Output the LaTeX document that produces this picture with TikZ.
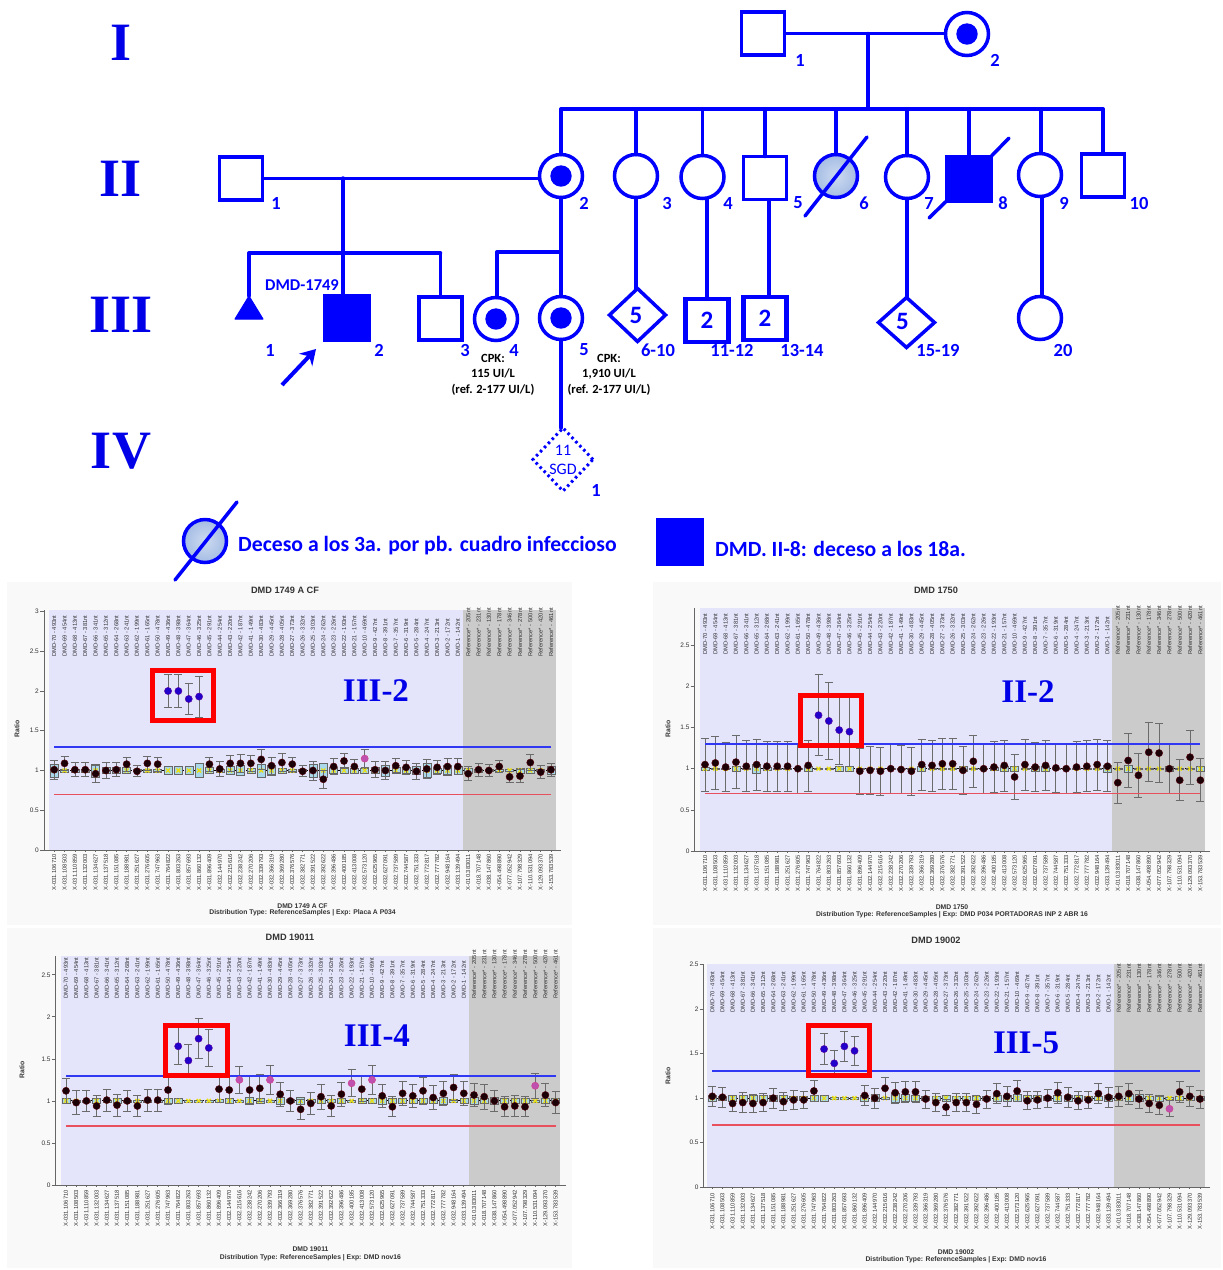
\documentclass[tikz,border=0pt]{standalone}
\usepackage{fontspec}
\usetikzlibrary{shapes.geometric,arrows.meta}
\newfontfamily\carl{Carlito}
\newfontfamily\lsans{Liberation Sans}
\newfontfamily\tnr{Liberation Serif}
\definecolor{pedblue}{HTML}{0000FF}
\definecolor{romblue}{HTML}{0000E8}
\definecolor{panelbg}{HTML}{E4E4FB}
\definecolor{panelgray}{HTML}{CBCBCB}
\definecolor{chartbg}{HTML}{F9F9F9}
\definecolor{charttext}{HTML}{333333}
\definecolor{hiline}{HTML}{3038F4}
\definecolor{loline}{HTML}{E8505E}
\definecolor{chk}{HTML}{1C0008}
\definecolor{chb}{HTML}{2200CC}
\definecolor{chp}{HTML}{C050B0}
\definecolor{boxfill}{HTML}{A8D8EA}
\definecolor{dead}{HTML}{A4BCE4}
\tikzset{
  ped/.style={draw=pedblue,line width=3.5pt,line cap=round},
  person/.style={ped,fill=white,inner sep=0pt,outer sep=0pt},
  female/.style={person,circle,minimum size=43pt},
  male/.style={person,rectangle,minimum width=43pt,minimum height=43pt,text=pedblue,font=\carl\bfseries\fontsize{25}{25}\selectfont},
  affected/.style={male,fill=pedblue,minimum width=44.5pt,minimum height=44.5pt},
  carrier/.style={female,path picture={\fill[pedblue] (path picture bounding box.center) circle (10.7pt);}},
  deadf/.style={female,inner color=dead!55,outer color=dead},
  multi/.style={person,diamond,aspect=1,text=pedblue,font=\carl\bfseries\fontsize{25}{25}\selectfont},
  plab/.style={text=pedblue,inner sep=0pt,font=\carl\bfseries\fontsize{18.5}{20}\selectfont},
  cpk/.style={text=black,inner sep=0pt,align=center,font=\carl\bfseries\fontsize{12.5}{15.5}\selectfont},
  gen/.style={text=romblue,inner sep=0pt,font=\tnr\bfseries\fontsize{54}{54}\selectfont},
  chlabel/.style={text=romblue,inner sep=0pt,font=\tnr\bfseries\fontsize{33}{33}\selectfont},
  legendtext/.style={text=pedblue,inner sep=0pt,anchor=west,font=\carl\bfseries\fontsize{21.7}{24}\selectfont},
  rlab/.style={text=charttext,inner sep=0pt,rotate=90,font=\lsans\fontsize{5.8}{6}\selectfont},
  ticklab/.style={text=charttext,inner sep=0pt,anchor=east,font=\lsans\fontsize{6.5}{7}\selectfont},
  chtitle/.style={text=charttext,inner sep=0pt,font=\lsans\bfseries\fontsize{9.2}{10}\selectfont},
  chfoot/.style={text=charttext,inner sep=0pt,font=\lsans\bfseries\fontsize{6.8}{7}\selectfont},
  chaxis/.style={draw=black!60,line width=.7pt},
  chbar/.style={draw=black!58,line width=.8pt},
  chbox/.style={draw=black!60,fill=boxfill,line width=.5pt},
  chmark/.style={draw=yellow!90!black,line width=1.3pt},
  chdot/.style={fill=ch#1,draw=ch#1!75!red,line width=.4pt},
  redbox/.style={draw=red,line width=5pt},
}
\newcommand\chartlabelsT{DMD-70 - 493nt,DMD-69 - 454nt,DMD-68 - 413nt,DMD-67 - 381nt,DMD-66 - 341nt,DMD-65 - 312nt,DMD-64 - 268nt,DMD-63 - 241nt,DMD-62 - 199nt,DMD-61 - 165nt,DMD-50 - 478nt,DMD-49 - 436nt,DMD-48 - 398nt,DMD-47 - 364nt,DMD-46 - 325nt,DMD-45 - 291nt,DMD-44 - 254nt,DMD-43 - 220nt,DMD-42 - 187nt,DMD-41 - 149nt,DMD-30 - 483nt,DMD-29 - 445nt,DMD-28 - 405nt,DMD-27 - 373nt,DMD-26 - 332nt,DMD-25 - 303nt,DMD-24 - 262nt,DMD-23 - 226nt,DMD-22 - 193nt,DMD-21 - 157nt,DMD-10 - 469nt,DMD-9 - 427nt,DMD-8 - 391nt,DMD-7 - 357nt,DMD-6 - 319nt,DMD-5 - 284nt,DMD-4 - 247nt,DMD-3 - 213nt,DMD-2 - 172nt,DMD-1 - 142nt,Reference* - 205nt,Reference* - 231nt,Reference* - 130nt,Reference* - 178nt,Reference* - 346nt,Reference* - 278nt,Reference* - 500nt,Reference* - 420nt,Reference* - 461nt}
\newcommand\chartlabelsB{X-031.106710,X-031.108503,X-031.110859,X-031.132003,X-031.134627,X-031.137518,X-031.151085,X-031.188981,X-031.251627,X-031.276605,X-031.747963,X-031.764822,X-031.803263,X-031.857693,X-031.860132,X-031.896409,X-032.144970,X-032.215616,X-032.238242,X-032.270206,X-032.339793,X-032.366319,X-032.369280,X-032.376576,X-032.382771,X-032.391522,X-032.392622,X-032.396486,X-032.400185,X-032.413008,X-032.573120,X-032.625965,X-032.627091,X-032.737589,X-032.744587,X-032.751333,X-032.772817,X-032.777782,X-032.948164,X-033.139494,X-010.383011,X-018.707148,X-038.147860,X-054.498890,X-077.052942,X-107.798329,X-110.531094,X-129.093370,X-153.783539}
% chart geometry comes from \cg... macros; #1 = id, #2 = data list
\newcommand\drawchart[2]{%
  \fill[chartbg] (\cgbL,\cgbT) rectangle (\cgbR,\cgbB);
  \fill[panelbg] (\cgL,\cgT) rectangle (\cgG,\cgz);
  \fill[panelgray] (\cgG,\cgT) rectangle (\cgR,\cgz);
  \draw[chaxis] (\cgA,\cgT) -- (\cgA,\cgz) -- (\cgE,\cgz);
  \foreach \tk in \cgticks {
    \pgfmathsetmacro\yy{\cgz-\tk*\cgu}
    \draw[chaxis] (\cgA-4,\yy) -- (\cgA,\yy);
    \node[ticklab] (#1-tick\tk) at (\cgA-5,\yy) {\tk};
  }
  \foreach \tx [count=\i from 0] in \chartlabelsT {
    \pgfmathsetmacro\xx{\cgF+\i*\cgS}
    \node[rlab,anchor=west] (#1-top\i) at (\xx,\cgTL) {\tx};
  }
  \foreach \tx [count=\i from 0] in \chartlabelsB {
    \pgfmathsetmacro\xx{\cgF+\i*\cgS}
    \node[rlab,anchor=east] (#1-bot\i) at (\xx,\cgBL) {\tx};
    \draw[chaxis] (\xx,\cgz) -- (\xx,\cgz+2);
  }
  \pgfmathsetmacro\yone{\cgz-\cgu}
  \pgfmathsetmacro\yhi{\cgz-1.3*\cgu}
  \pgfmathsetmacro\ylo{\cgz-0.7*\cgu}
  \pgfmathsetmacro\xlast{\cgF+48*\cgS}
  \draw[black,line width=1.1pt,dash pattern=on 2pt off 2pt] (\cgF,\yone) -- (\xlast,\yone);
  \foreach \va/\er/\co/\hh [count=\i from 0] in {#2} {
    \pgfmathsetmacro\xx{\cgF+\i*\cgS}
    \pgfmathsetmacro\yb{\yone-\hh*\cgu}
    \pgfmathsetmacro\yc{\yone+\hh*\cgu}
    \path[chbox] (\xx-4,\yb) rectangle (\xx+4,\yc);
    \draw[chmark] (\xx-2,\yone-2) -- (\xx+2,\yone+2) (\xx-2,\yone+2) -- (\xx+2,\yone-2);
    \pgfmathsetmacro\yh{\cgz-(\va+\er)*\cgu}
    \pgfmathsetmacro\yl{\cgz-(\va-\er)*\cgu}
    \draw[chbar] (\xx-4,\yh) -- (\xx+4,\yh) (\xx,\yh) -- (\xx,\yl) (\xx-4,\yl) -- (\xx+4,\yl);
  }
  \draw[hiline,line width=1.8pt] (\cgF,\yhi) -- (\xlast,\yhi);
  \draw[loline,line width=1.5pt] (\cgF,\ylo) -- (\xlast,\ylo);
  \foreach \va/\er/\co/\hh [count=\i from 0] in {#2} {
    \pgfmathsetmacro\xx{\cgF+\i*\cgS}
    \pgfmathsetmacro\yd{\cgz-\va*\cgu}
    \path[chdot=\co] (\xx,\yd) circle (3.6);
  }
  \draw[redbox] (\cgrL,\cgrT) rectangle (\cgrR,\cgrB);
}
\begin{document}
\begin{tikzpicture}[x=1pt,y=-1pt]
\useasboundingbox (0,0) rectangle (1223,1270);
\fill[white] (0,0) rectangle (1223,1270);
% ---------- generation numerals
\node[gen] (genI) at (121,43) {I};
\node[gen] (genII) at (121,179) {II};
\node[gen] (genIII) at (121,315) {III};
\node[gen] (genIV) at (121,451) {IV};
% ---------- individuals
\node[male] (I1) at (763,33.5) {};
\node[carrier] (I2) at (967,34) {};
\node[male] (II1) at (241,178.5) {};
\node[carrier] (II2) at (561,176) {};
\node[female] (II3) at (636,176) {};
\node[female] (II4) at (702.5,177) {};
\node[male] (II5) at (765,178) {};
\node[deadf] (II6) at (836,176) {};
\node[female] (II7) at (907,177) {};
\node[affected] (II8) at (969,178.5) {};
\node[female] (II9) at (1040,175) {};
\node[male] (II10) at (1103,175.5) {};
\coordinate (III1) at (249,296);
\node[affected] (III2) at (347,318) {};
\node[male] (III3) at (440.5,318.5) {};
\node[carrier] (III4) at (496,319) {};
\node[carrier] (III5) at (561,318) {};
\node[multi,minimum width=56pt,minimum height=53pt] (III610) at (637.5,315) {\raisebox{-5pt}{5}\kern3pt};
\node[male,line width=4.2pt] (III1112) at (707,320.5) {2};
\node[male,line width=4.2pt] (III1314) at (765,318.5) {2};
\node[multi,minimum width=56pt,minimum height=50pt] (III1519) at (906.5,322.5) {\raisebox{2pt}{5}\kern8pt};
\node[female] (III20) at (1040,318) {};
\node[person,diamond,aspect=1,line width=3pt,dash pattern=on 2.5pt off 3.2pt,line cap=butt,minimum width=60pt,minimum height=63pt,text=pedblue,align=center,font=\carl\fontsize{16}{20}\selectfont] (IV1) at (563,459.5) {11\\[-1pt]SGD};
% ---------- connectors, generation I-II
\draw[ped] (I1.east) -- (I1.east -| I2.west);
\coordinate (mI) at (868,33.5);
\coordinate (barI) at (868,109);
\draw[ped] (mI) -- (barI);
\draw[ped] (II2.north |- barI) -- (barI -| II10.north);
\foreach \kid in {II2,II3,II4,II5,II6,II7,II8}
  \draw[ped] (\kid.north |- barI) -- (\kid.north);
\coordinate (topII9) at (1041,152);
\draw[ped] (topII9 |- barI) -- (topII9);
\draw[ped] (II10.north |- barI) -- (II10.north);
% ---------- generation II-III
\draw[ped] (II1.east) -- (II1.east -| II2.west);
\coordinate (mII) at (343,178);
\coordinate (barII) at (343,253);
\draw[ped] (mII) -- (barII);
\draw[ped] (III1 |- barII) -- (barII -| III3.north);
\draw[ped] (III1 |- barII) -- (III1);
\draw[ped] (barII) -- (barII |- III2.north);
\draw[ped] (III3.north |- barII) -- (III3.north);
\coordinate (barIIb) at (497,252);
\draw[ped] (II2.south) -- (III5.north);
\draw[ped] (barIIb) -- (barIIb -| III5.north);
\draw[ped] (barIIb) -- (barIIb |- III4.north);
\draw[ped] (II3.south) -- (II3.south |- III610.north);
\coordinate (II4d) at (707,199);
\draw[ped] (II4d) -- (II4d |- III1112.north);
\coordinate (II5d) at (769,200);
\draw[ped] (II5d) -- (II5d |- III1314.north);
\draw[ped] (II7.south) -- (II7.south |- III1519.north);
\coordinate (II9d) at (1042,197);
\draw[ped] (II9d) -- (II9d |- III20.north);
\draw[ped] (III5.south) -- (III5.south |- IV1.north);
% ---------- triangle, slashes, arrow
\fill[pedblue,draw=pedblue,line width=1pt,line join=round] (III1) -- ++(-14,23) -- ++(28,0) -- cycle;
\coordinate (s6a) at (805,216); \coordinate (s6b) at (867,137);
\draw[ped] (s6a) -- (s6b);
\coordinate (s8a) at (929,218); \coordinate (s8b) at (1009,138);
\draw[ped] (s8a) -- (II8.south west);
\draw[ped] (II8.north east) -- (s8b);
\coordinate (arT) at (282,385); \coordinate (arH) at (316,349);
\draw[draw=pedblue,line width=4pt,-{Stealth[length=15pt,width=18pt,inset=5pt]}] (arT) -- (arH);
% ---------- labels
\foreach \nm/\px/\py/\tx in {a/800/60/1,b/995/60/2,c/276/203/1,d/584/203/2,e/667/203/3,f/728/203/4,g/798/203/5,h/864/203/6,i/929/203/7,j/1003/203/8,k/1064/203/9,l/1139/203/10,m/270/350/1,n/379/350/2,o/465/350/3,p/514/350/4,q/584/350/5,r/658/350/6-10,s/732/350/11-12,t/802/350/13-14,u/938/350/15-19,v/1063/350/20,w/596/490/1}
  \node[plab] (lab\nm) at (\px,\py) {\tx};
\node[plab,font=\carl\fontsize{16.5}{18}\selectfont\bfseries] (labDMD) at (302,285) {DMD-1749};
\node[cpk] (cpk4) at (493,374.5) {CPK:\\115 UI/L\\(ref. 2-177 UI/L)};
\node[cpk] (cpk5) at (609,374.5) {CPK:\\1,910 UI/L\\(ref. 2-177 UI/L)};
% ---------- legend
\node[deadf] (legdead) at (205,541) {};
\coordinate (ls1) at (175,580); \coordinate (ls2) at (237,502);
\draw[ped] (ls1) -- (ls2);
\node[legendtext] (legt1) at (238,546) {Deceso a los 3a. por pb. cuadro infeccioso};
\node[affected] (legaff) at (680,541.5) {};
\node[legendtext] (legt2) at (715,548.5) {DMD. II-8: deceso a los 18a.};
% ---------- chart 1
\def\cgbL{7}\def\cgbT{582}\def\cgbR{572}\def\cgbB{925}
\def\cgL{49}\def\cgR{556}\def\cgG{463}\def\cgT{610}\def\cgz{850}\def\cgu{79.5}
\def\cgA{44}\def\cgE{561}\def\cgF{54.2}\def\cgS{10.35}\def\cgTL{657}\def\cgBL{854}
\def\cgticks{0,0.5,1,1.5,2,2.5,3}
\def\cgrL{152.5}\def\cgrT{670.5}\def\cgrR{213.5}\def\cgrB{720.5}
\drawchart{cA}{1.01/.12/k/.08,1.09/.09/k/.02,1.01/.09/k/.02,1.01/.09/k/.02,.96/.11/k/.08,1.0/.1/k/.04,1.01/.09/k/.04,1.08/.09/k/.04,.99/.07/k/.01,1.09/.09/k/.02,1.08/.09/k/.02,2.0/.21/b/.05,2.0/.21/b/.05,1.9/.2/b/.05,1.93/.26/b/.09,1.08/.09/k/.04,1.02/.09/k/.02,1.09/.1/k/.05,1.09/.11/k/.06,1.09/.1/k/.03,1.14/.13/k/.08,1.06/.11/k/.06,1.1/.11/k/.03,1.08/.09/k/.02,.99/.07/k/.01,1.0/.12/k/.08,.89/.11/k/.09,1.05/.1/k/.04,1.12/.09/k/.04,1.05/.09/k/.03,1.15/.11/p/.03,1.01/.1/k/.04,1.0/.11/k/.07,1.06/.09/k/.04,1.04/.09/k/.04,.99/.1/k/.05,1.02/.12/k/.09,1.04/.09/k/.03,1.05/.1/k/.06,1.05/.1/k/.05,.96/.09/k/.03,1.01/.08/k/.02,1.0/.08/k/.01,1.05/.08/k/.01,.92/.07/k/.01,.93/.08/k/.03,1.1/.1/k/.03,.98/.08/k/.01,1.01/.08/k/.05}
\node[chtitle] (cAtitle) at (285,590) {DMD 1749 A CF};
\node[chfoot] (cAf1) at (302.5,906) {DMD 1749 A CF};
\node[chfoot] (cAf2) at (302.5,913) {Distribution Type: ReferenceSamples | Exp: Placa A P034};
\node[chfoot,rotate=90] (cAr) at (17,729) {Ratio};
\node[chlabel] (cAl) at (376,691) {III-2};
% ---------- chart 2
\def\cgbL{653}\def\cgbT{582}\def\cgbR{1221}\def\cgbB{925}
\def\cgL{699.5}\def\cgR{1205}\def\cgG{1112}\def\cgT{608}\def\cgz{851}\def\cgu{82.3}
\def\cgA{694.7}\def\cgE{1210}\def\cgF{705}\def\cgS{10.32}\def\cgTL{655}\def\cgBL{855}
\def\cgticks{0,0.5,1,1.5,2,2.5}
\def\cgrL{800}\def\cgrT{695.5}\def\cgrR{861}\def\cgrB{745}
\drawchart{cB}{1.05/.32/k/.02,1.07/.32/k/.01,1.02/.3/k/.01,1.08/.32/k/.03,1.03/.31/k/.01,1.05/.31/k/.05,1.03/.3/k/.02,1.03/.3/k/.01,1.03/.3/k/.01,1.0/.3/k/.01,1.04/.31/k/.03,1.65/.49/b/.01,1.58/.47/b/.01,1.47/.42/b/.03,1.45/.42/b/.03,.97/.28/k/.01,.98/.29/k/.01,.97/.29/k/.01,1.0/.3/k/.01,.99/.29/k/.01,.97/.29/k/.01,1.05/.31/k/.03,1.04/.31/k/.01,1.06/.31/k/.01,1.06/.31/k/.01,.98/.29/k/.03,1.09/.32/k/.01,1.0/.3/k/.01,1.02/.31/k/.02,1.04/.31/k/.03,.9/.27/k/.03,1.05/.31/k/.01,1.02/.3/k/.03,1.04/.3/k/.03,1.01/.3/k/.01,1.0/.3/k/.01,1.02/.31/k/.01,1.03/.31/k/.01,1.05/.31/k/.01,1.03/.31/k/.04,.83/.25/k/.01,1.1/.33/k/.04,.92/.27/k/.01,1.2/.36/k/.01,1.19/.36/k/.01,1.0/.3/k/.03,.86/.25/k/.01,1.14/.33/k/.01,.86/.26/k/.03}
\node[chtitle] (cBtitle) at (936,590.7) {DMD 1750};
\node[chfoot] (cBf1) at (952,907) {DMD 1750};
\node[chfoot] (cBf2) at (952,914.3) {Distribution Type: ReferenceSamples | Exp: DMD P034 PORTADORAS INP 2 ABR 16};
\node[chfoot,rotate=90] (cBr) at (668,729) {Ratio};
\node[chlabel] (cBl) at (1028,692) {II-2};
% ---------- chart 3
\def\cgbL{7}\def\cgbT{928}\def\cgbR{572}\def\cgbB{1268}
\def\cgL{60.8}\def\cgR{560.4}\def\cgG{469}\def\cgT{956}\def\cgz{1185}\def\cgu{84.1}
\def\cgA{55.8}\def\cgE{566}\def\cgF{66}\def\cgS{10.2}\def\cgTL{999}\def\cgBL{1190}
\def\cgticks{0,0.5,1,1.5,2,2.5}
\def\cgrL{165.2}\def\cgrT{1025.2}\def\cgrR{227.1}\def\cgrB{1075.8}
\drawchart{cC}{1.12/.15/k/.03,.98/.14/k/.01,1.0/.13/k/.01,.94/.13/k/.03,1.01/.13/k/.01,.95/.13/k/.03,1.0/.13/k/.01,.94/.13/k/.01,1.01/.13/k/.01,1.01/.13/k/.01,1.13/.17/k/.03,1.65/.22/b/.03,1.48/.19/b/.01,1.74/.24/b/.01,1.63/.22/b/.01,1.14/.16/k/.02,1.13/.16/k/.03,1.25/.16/p/.01,1.13/.16/k/.04,1.15/.16/k/.03,1.25/.17/p/.01,1.08/.14/k/.04,1.0/.13/k/.02,.9/.12/k/.04,.97/.13/k/.02,1.05/.15/k/.03,.94/.13/k/.02,1.08/.14/k/.03,1.21/.16/p/.01,1.14/.15/k/.03,1.25/.17/p/.03,1.06/.14/k/.04,.93/.12/k/.03,1.09/.14/k/.03,1.06/.14/k/.03,1.12/.16/k/.03,1.04/.14/k/.03,1.09/.14/k/.04,1.16/.15/k/.02,1.09/.14/k/.03,1.07/.14/k/.04,1.05/.15/k/.03,1.0/.13/k/.04,.93/.12/k/.03,.94/.13/k/.03,.93/.12/k/.03,1.18/.15/p/.01,1.07/.14/k/.03,.98/.13/k/.03}
\node[chtitle] (cCtitle) at (290,937.7) {DMD 19011};
\node[chfoot] (cCf1) at (310.5,1249.3) {DMD 19011};
\node[chfoot] (cCf2) at (310.5,1257.7) {Distribution Type: ReferenceSamples | Exp: DMD nov16};
\node[chfoot,rotate=90] (cCr) at (22,1070) {Ratio};
\node[chlabel] (cCl) at (377,1036) {III-4};
% ---------- chart 4
\def\cgbL{653}\def\cgbT{928}\def\cgbR{1221}\def\cgbB{1268}
\def\cgL{706.8}\def\cgR{1205}\def\cgG{1113.7}\def\cgT{964.3}\def\cgz{1187.3}\def\cgu{89.2}
\def\cgA{703.8}\def\cgE{1210}\def\cgF{712.3}\def\cgS{10.16}\def\cgTL{1013}\def\cgBL{1193}
\def\cgticks{0,0.5,1,1.5,2,2.5}
\def\cgrL{808.9}\def\cgrT{1025.8}\def\cgrR{869.8}\def\cgrB{1075.8}
\drawchart{cD}{1.02/.11/k/.03,1.01/.11/k/.02,.94/.09/k/.03,.95/.11/k/.03,.94/.1/k/.03,.95/.1/k/.03,1.0/.11/k/.03,.96/.1/k/.03,.98/.11/k/.02,.98/.1/k/.02,1.08/.12/k/.03,1.55/.17/b/.03,1.39/.15/b/.01,1.58/.17/b/.01,1.53/.16/b/.01,1.03/.11/k/.03,1.0/.11/k/.04,1.11/.12/k/.01,1.06/.12/k/.05,1.07/.12/k/.04,1.07/.12/k/.03,.99/.1/k/.02,.95/.1/k/.02,.9/.09/k/.03,.95/.1/k/.02,.95/.1/k/.02,.93/.1/k/.02,.99/.1/k/.02,1.05/.11/k/.03,1.02/.11/k/.03,1.08/.12/k/.04,.97/.1/k/.03,.98/.1/k/.03,1.0/.1/k/.02,1.06/.12/k/.03,1.01/.11/k/.03,.97/.1/k/.03,.98/.1/k/.02,1.05/.11/k/.02,1.01/.11/k/.03,1.02/.11/k/.02,1.05/.12/k/.04,.99/.1/k/.04,.94/.1/k/.02,.92/.1/k/.03,.88/.09/p/.01,1.07/.12/k/.02,1.02/.11/k/.02,.99/.1/k/.02}
\node[chtitle] (cDtitle) at (936,940.7) {DMD 19002};
\node[chfoot] (cDf1) at (956,1251.7) {DMD 19002};
\node[chfoot] (cDf2) at (956,1260) {Distribution Type: ReferenceSamples | Exp: DMD nov16};
\node[chfoot,rotate=90] (cDr) at (668,1075.7) {Ratio};
\node[chlabel] (cDl) at (1026,1043) {III-5};
\end{tikzpicture}
\end{document}
